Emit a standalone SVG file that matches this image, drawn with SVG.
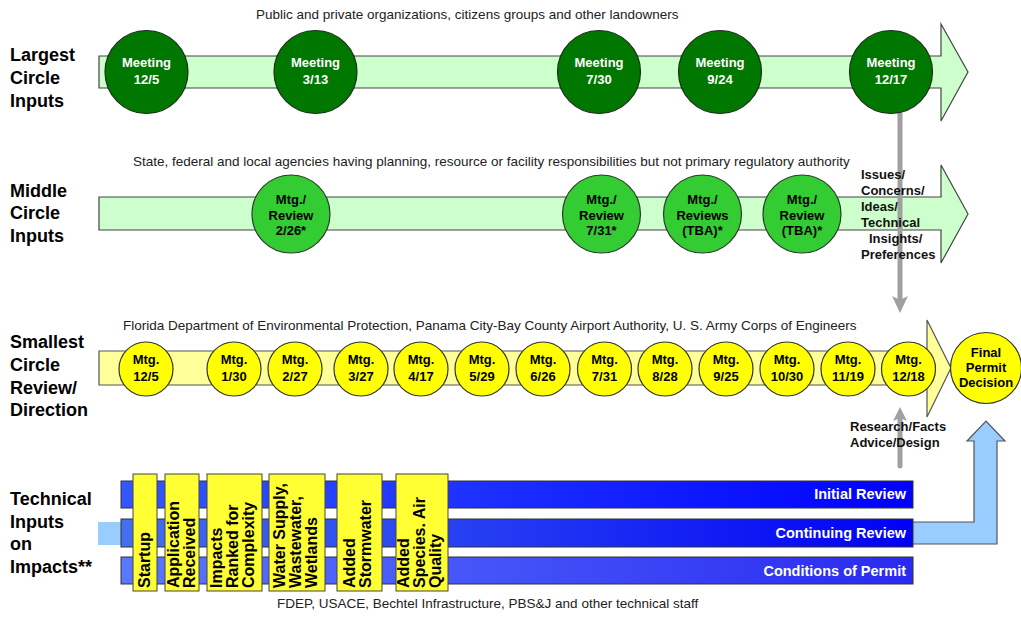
<svg xmlns="http://www.w3.org/2000/svg" width="1021" height="623" viewBox="0 0 1021 623">
<defs>
<style>
.lbl{font-family:"Liberation Sans",Arial,sans-serif;font-size:18px;font-weight:bold;fill:#000}
.cap{font-family:"Liberation Sans",Arial,sans-serif;font-size:13.5px;fill:#222}
.ct{font-family:"Liberation Sans",Arial,sans-serif;font-size:13px;font-weight:bold;text-anchor:middle}
.w{fill:#fff}
.k{fill:#000}
.side{font-family:"Liberation Sans",Arial,sans-serif;font-size:13px;font-weight:bold;fill:#111}
.bt{font-family:"Liberation Sans",Arial,sans-serif;font-size:14.5px;font-weight:bold;fill:#fff;text-anchor:end}
.vt{font-family:"Liberation Sans",Arial,sans-serif;font-size:16px;font-weight:bold;fill:#000}
.c1{fill:#007800;stroke:#1a2e1a;stroke-width:1.2}
.c2{fill:#33cc33;stroke:#2a3a2a;stroke-width:1.2}
.c3{fill:#ffff00;stroke:#333;stroke-width:1.2}
.gbar{fill:#ccffcc;stroke:#444;stroke-width:1.2}
.ybar{fill:#ffff99;stroke:#555;stroke-width:1.2}
.ybox{fill:#ffff33;stroke:#444;stroke-width:1}
.gl{stroke:#a0a0a0;stroke-width:5;fill:none}
.gh{fill:#a0a0a0}
</style>
<linearGradient id="g1" x1="0" y1="0" x2="1" y2="0"><stop offset="0" stop-color="#3358ff"/><stop offset="1" stop-color="#0000ff"/></linearGradient>
<linearGradient id="g2" x1="0" y1="0" x2="1" y2="0"><stop offset="0" stop-color="#4470f0"/><stop offset="1" stop-color="#0000f5"/></linearGradient>
<linearGradient id="g3" x1="0" y1="0" x2="1" y2="0"><stop offset="0" stop-color="#5a78ff"/><stop offset="1" stop-color="#2a2af0"/></linearGradient>
</defs>
<rect width="1021" height="623" fill="#fff"/>

<g id="row-labels">
<text class="lbl" x="10" y="61">Largest</text>
<text class="lbl" x="10" y="84">Circle</text>
<text class="lbl" x="10" y="107">Inputs</text>
<text class="lbl" x="10" y="196.5">Middle</text>
<text class="lbl" x="10" y="219">Circle</text>
<text class="lbl" x="10" y="241.5">Inputs</text>
<text class="lbl" x="10" y="348">Smallest</text>
<text class="lbl" x="10" y="371">Circle</text>
<text class="lbl" x="10" y="393.5">Review/</text>
<text class="lbl" x="10" y="416">Direction</text>
<text class="lbl" x="10" y="505">Technical</text>
<text class="lbl" x="10" y="527.5">Inputs</text>
<text class="lbl" x="10" y="550">on</text>
<text class="lbl" x="10" y="572.5">Impacts**</text>
</g>

<g id="captions">
<text class="cap" x="256" y="19">Public and private organizations, citizens groups and other landowners</text>
<text class="cap" x="133" y="166">State, federal and local agencies having planning, resource or facility responsibilities but not primary regulatory authority</text>
<text class="cap" x="123" y="330">Florida Department of Environmental Protection, Panama City-Bay County Airport Authority, U. S. Army Corps of Engineers</text>
<text class="cap" x="277" y="608">FDEP, USACE, Bechtel Infrastructure, PBS&amp;J and other technical staff</text>
</g>

<g id="track-largest">
<polygon class="gbar" points="99,56 941,56 941,24 968,72 941,121 941,88 99,88"/>
</g>
<g id="track-middle">
<polygon class="gbar" points="99,197 941,197 941,165 968,214 941,263 941,230 99,230"/>
</g>
<g id="track-smallest">
<polygon class="ybar" points="99,351 927,351 927,320 951,368 927,417 927,385 99,385"/>
</g>

<g id="connectors">
<line class="gl" x1="900" y1="113" x2="900" y2="300"/>
<polygon class="gh" points="892,296 900,300 908,296 900,313"/>
<line class="gl" x1="900" y1="466" x2="900" y2="418" stroke-linecap="round"/>
<polygon class="gh" points="893,421 900,418 907,421 900,407"/>
<polygon fill="#99ccff" stroke="#555" stroke-width="1.2" points="905,522 974,522 974,441 967,441 986,421 1005,441 997,441 997,544 905,544"/>
<rect x="98" y="522" width="26" height="23" fill="#99ccff"/>
</g>

<g id="largest-meetings">
<g id="m-12-5"><circle class="c1" cx="146.5" cy="72" r="41.5"/><text class="ct w" x="146.5" y="67">Meeting</text><text class="ct w" x="146.5" y="84">12/5</text></g>
<g id="m-3-13"><circle class="c1" cx="315.5" cy="72" r="41.5"/><text class="ct w" x="315.5" y="67">Meeting</text><text class="ct w" x="315.5" y="84">3/13</text></g>
<g id="m-7-30"><circle class="c1" cx="599" cy="72" r="41.5"/><text class="ct w" x="599" y="67">Meeting</text><text class="ct w" x="599" y="84">7/30</text></g>
<g id="m-9-24"><circle class="c1" cx="720" cy="72" r="41.5"/><text class="ct w" x="720" y="67">Meeting</text><text class="ct w" x="720" y="84">9/24</text></g>
<g id="m-12-17"><circle class="c1" cx="891" cy="72" r="41.5"/><text class="ct w" x="891" y="67">Meeting</text><text class="ct w" x="891" y="84">12/17</text></g>
</g>

<g id="middle-meetings">
<g id="r-2-26"><circle class="c2" cx="291" cy="214" r="39"/><text class="ct k" x="291" y="204">Mtg./</text><text class="ct k" x="291" y="219.5">Review</text><text class="ct k" x="291" y="235">2/26*</text></g>
<g id="r-7-31"><circle class="c2" cx="601.5" cy="214" r="39"/><text class="ct k" x="601.5" y="204">Mtg./</text><text class="ct k" x="601.5" y="219.5">Review</text><text class="ct k" x="601.5" y="235">7/31*</text></g>
<g id="r-tba-1"><circle class="c2" cx="702.5" cy="214" r="39"/><text class="ct k" x="702.5" y="204">Mtg./</text><text class="ct k" x="702.5" y="219.5">Reviews</text><text class="ct k" x="702.5" y="235">(TBA)*</text></g>
<g id="r-tba-2"><circle class="c2" cx="802" cy="214" r="39"/><text class="ct k" x="802" y="204">Mtg./</text><text class="ct k" x="802" y="219.5">Review</text><text class="ct k" x="802" y="235">(TBA)*</text></g>
</g>

<g id="issues-label">
<text class="side" x="861" y="179">Issues/</text>
<text class="side" x="861" y="195">Concerns/</text>
<text class="side" x="861" y="211">Ideas/</text>
<text class="side" x="861" y="227">Technical</text>
<text class="side" x="869" y="243">Insights/</text>
<text class="side" x="861" y="259">Preferences</text>
</g>

<g id="smallest-meetings">
<g id="s-12-5"><circle class="c3" cx="146" cy="369" r="27"/><text class="ct k" x="146" y="364">Mtg.</text><text class="ct k" x="146" y="381">12/5</text></g>
<g id="s-1-30"><circle class="c3" cx="234" cy="369" r="27"/><text class="ct k" x="234" y="364">Mtg.</text><text class="ct k" x="234" y="381">1/30</text></g>
<g id="s-2-27"><circle class="c3" cx="295" cy="369" r="27"/><text class="ct k" x="295" y="364">Mtg.</text><text class="ct k" x="295" y="381">2/27</text></g>
<g id="s-3-27"><circle class="c3" cx="361" cy="369" r="27"/><text class="ct k" x="361" y="364">Mtg.</text><text class="ct k" x="361" y="381">3/27</text></g>
<g id="s-4-17"><circle class="c3" cx="421" cy="369" r="27"/><text class="ct k" x="421" y="364">Mtg.</text><text class="ct k" x="421" y="381">4/17</text></g>
<g id="s-5-29"><circle class="c3" cx="482" cy="369" r="27"/><text class="ct k" x="482" y="364">Mtg.</text><text class="ct k" x="482" y="381">5/29</text></g>
<g id="s-6-26"><circle class="c3" cx="543" cy="369" r="27"/><text class="ct k" x="543" y="364">Mtg.</text><text class="ct k" x="543" y="381">6/26</text></g>
<g id="s-7-31"><circle class="c3" cx="604.5" cy="369" r="27"/><text class="ct k" x="604.5" y="364">Mtg.</text><text class="ct k" x="604.5" y="381">7/31</text></g>
<g id="s-8-28"><circle class="c3" cx="665" cy="369" r="27"/><text class="ct k" x="665" y="364">Mtg.</text><text class="ct k" x="665" y="381">8/28</text></g>
<g id="s-9-25"><circle class="c3" cx="726" cy="369" r="27"/><text class="ct k" x="726" y="364">Mtg.</text><text class="ct k" x="726" y="381">9/25</text></g>
<g id="s-10-30"><circle class="c3" cx="787" cy="369" r="27"/><text class="ct k" x="787" y="364">Mtg.</text><text class="ct k" x="787" y="381">10/30</text></g>
<g id="s-11-19"><circle class="c3" cx="848" cy="369" r="27"/><text class="ct k" x="848" y="364">Mtg.</text><text class="ct k" x="848" y="381">11/19</text></g>
<g id="s-12-18"><circle class="c3" cx="908.5" cy="369" r="27"/><text class="ct k" x="908.5" y="364">Mtg.</text><text class="ct k" x="908.5" y="381">12/18</text></g>
</g>

<g id="final-permit">
<circle class="c3" cx="986" cy="368" r="35.5"/>
<text class="ct k" x="986" y="357">Final</text>
<text class="ct k" x="986" y="372">Permit</text>
<text class="ct k" x="986" y="387">Decision</text>
</g>

<g id="research-label">
<text class="side" x="850" y="431">Research/Facts</text>
<text class="side" x="850" y="447">Advice/Design</text>
</g>

<g id="review-bars">
<g id="initial-review"><rect x="121" y="481" width="792" height="27" fill="url(#g1)" stroke="#333" stroke-width="1"/><text class="bt" x="906" y="499">Initial Review</text></g>
<g id="continuing-review"><rect x="121" y="519" width="792" height="28" fill="url(#g2)" stroke="#333" stroke-width="1"/><text class="bt" x="906" y="538">Continuing Review</text></g>
<g id="conditions-permit"><rect x="121" y="557" width="792" height="27" fill="url(#g3)" stroke="#333" stroke-width="1"/><text class="bt" x="906" y="576">Conditions of Permit</text></g>
</g>

<g id="phases">
<g id="p-startup"><rect class="ybox" x="133" y="474" width="24" height="117"/><text class="vt" transform="translate(150,588) rotate(-90)">Startup</text></g>
<g id="p-application"><rect class="ybox" x="165" y="474" width="34" height="117"/><text class="vt" transform="translate(179,588) rotate(-90)">Application</text><text class="vt" transform="translate(195,588) rotate(-90)">Received</text></g>
<g id="p-impacts"><rect class="ybox" x="207" y="474" width="55" height="117"/><text class="vt" transform="translate(222,588) rotate(-90)">Impacts</text><text class="vt" transform="translate(238,588) rotate(-90)">Ranked for</text><text class="vt" transform="translate(254,588) rotate(-90)">Complexity</text></g>
<g id="p-water"><rect class="ybox" x="269" y="474" width="56" height="117"/><text class="vt" transform="translate(285,588) rotate(-90)">Water Supply,</text><text class="vt" transform="translate(301,588) rotate(-90)">Wastewater,</text><text class="vt" transform="translate(317,588) rotate(-90)">Wetlands</text></g>
<g id="p-stormwater"><rect class="ybox" x="337" y="474" width="45" height="117"/><text class="vt" transform="translate(355,588) rotate(-90)">Added</text><text class="vt" transform="translate(371,588) rotate(-90)">Stormwater</text></g>
<g id="p-species"><rect class="ybox" x="396" y="474" width="52" height="117"/><text class="vt" transform="translate(409,588) rotate(-90)">Added</text><text class="vt" transform="translate(425,588) rotate(-90)">Species. Air</text><text class="vt" transform="translate(441,588) rotate(-90)">Quality</text></g>
</g>
</svg>
